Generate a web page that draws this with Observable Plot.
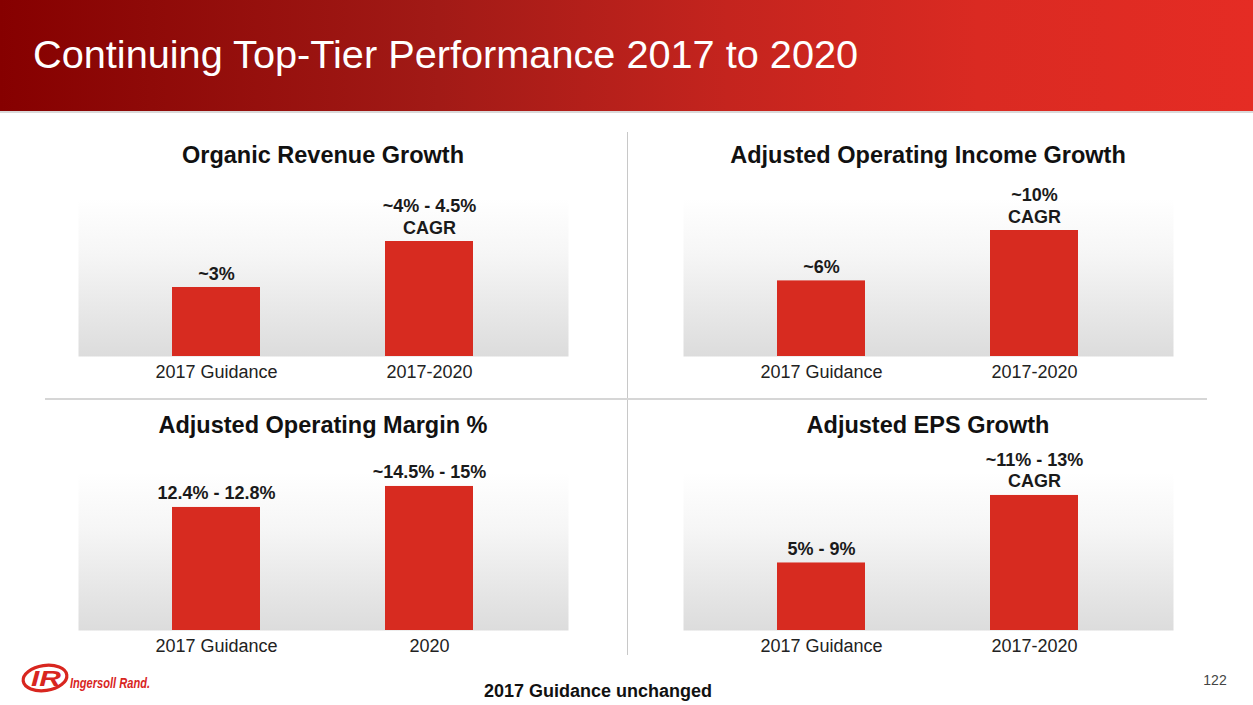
<!DOCTYPE html>
<html>
<head>
<meta charset="utf-8">
<script src="https://cdn.jsdelivr.net/npm/d3@7"></script>
<script src="https://cdn.jsdelivr.net/npm/@observablehq/plot@0.6"></script>
<style>
  html, body { margin: 0; padding: 0; background: #fff; width: 1253px; height: 705px; overflow: hidden; }
  body { position: relative; font-family: "Liberation Sans", Arial, Helvetica, sans-serif; }
  .abs { position: absolute; }
  #header { left: 0; top: 0; width: 1253px; height: 111px;
    background: linear-gradient(to right, #860000 0%, #8f0a08 12%, #a21a16 35%, #c4241e 58%, #da2a22 78%, #e52c24 100%); }
  #headerLine { left: 0; top: 111px; width: 1253px; height: 2px; background: #d9d9d9; }
  #title { left: 33px; top: 35px; color: #fff; font-size: 39.7px; line-height: 1; white-space: nowrap; }
  .ptitle { font-weight: bold; font-size: 23.5px; line-height: 1; color: #111; text-align: center; width: 490px; white-space: nowrap; }
  .panel { width: 490px; }
  #vline { left: 626.5px; top: 132px; width: 1px; height: 523px; background: #c8c8c8; }
  #hline { left: 45px; top: 398px; width: 1162px; height: 2px; background: #d6d6d6; }
  #footnote { left: 398px; top: 682px; width: 400px; text-align: center; font-weight: bold; font-size: 18px; line-height: 1; color: #111; }
  #pageno { left: 1195px; top: 673px; width: 40px; text-align: center; font-size: 14px; line-height: 1; color: #444; }
</style>
</head>
<body>
<svg width="0" height="0" style="position:absolute">
  <defs>
    <linearGradient id="bgGrad" x1="0" y1="0" x2="0" y2="1">
      <stop offset="0" stop-color="#ffffff"/>
      <stop offset="0.35" stop-color="#f6f6f6"/>
      <stop offset="1" stop-color="#dcdcdc"/>
    </linearGradient>
  </defs>
</svg>
<div id="header" class="abs"></div>
<div id="headerLine" class="abs"></div>
<div id="title" class="abs">Continuing Top-Tier Performance 2017 to 2020</div>
<div id="vline" class="abs"></div>
<div id="hline" class="abs"></div>
<div id="footnote" class="abs">2017 Guidance unchanged</div>
<div id="pageno" class="abs">122</div>
<svg class="abs" style="left:18px;top:660px" width="175" height="40" viewBox="0 0 175 40">
  <ellipse cx="27" cy="18" rx="22" ry="12.5" fill="none" stroke="#d8261f" stroke-width="3.2" transform="rotate(-8 27 18)"/>
  <text x="13" y="26" font-family="Liberation Sans, Arial" font-weight="bold" font-style="italic" font-size="22" fill="#d8261f" textLength="30" lengthAdjust="spacingAndGlyphs">IR</text>
  <text x="52" y="28" font-family="Liberation Sans Narrow, Liberation Sans, Arial" font-weight="bold" font-style="italic" font-size="14" fill="#d8261f" textLength="80" lengthAdjust="spacingAndGlyphs">Ingersoll Rand.</text>
</svg>

<script>
// ---- data ----
const panelTitles = ["Organic Revenue Growth", "Adjusted Operating Income Growth", "Adjusted Operating Margin %", "Adjusted EPS Growth"];

const revCategories = ["2017 Guidance", "2017-2020"];
const revValues = [3, 5];
const revLabels = ["~3%", "~4% - 4.5%\nCAGR"];

const opIncCategories = ["2017 Guidance", "2017-2020"];
const opIncValues = [6, 10];
const opIncLabels = ["~6%", "~10%\nCAGR"];

const marginCategories = ["2017 Guidance", "2020"];
const marginValues = [12.6, 14.75];
const marginLabels = ["12.4% - 12.8%", "~14.5% - 15%"];

const epsCategories = ["2017 Guidance", "2017-2020"];
const epsValues = [6, 12];
const epsLabels = ["5% - 9%", "~11% - 13%\nCAGR"];

const yMaxes = [6.87, 12.54, 16.18, 14.04];

// ---- layout ----
const panelLefts = [78, 683, 78, 683];
const plotTops = [198, 198, 472, 472];
const titleTops = [144, 144, 414, 414];
const MT = 60, PH = 158, MB = 34;

const series = [
  [revCategories, revValues, revLabels],
  [opIncCategories, opIncValues, opIncLabels],
  [marginCategories, marginValues, marginLabels],
  [epsCategories, epsValues, epsLabels]
];

series.forEach(([cats, vals, labs], i) => {
  const data = cats.map((c, j) => ({cat: c, value: vals[j], label: labs[j]}));
  const t = document.createElement("div");
  t.className = "abs ptitle";
  t.style.left = panelLefts[i] + "px";
  t.style.top = titleTops[i] + "px";
  t.textContent = panelTitles[i];
  document.body.appendChild(t);

  const chart = Plot.plot({
    width: 490,
    height: MT + PH + MB,
    marginLeft: 0, marginRight: 0, marginTop: MT, marginBottom: MB,
    style: {fontFamily: "'Liberation Sans', Arial, sans-serif", fontSize: "18px", color: "#222", background: "transparent", overflow: "visible"},
    x: {domain: cats, paddingInner: 0.585, paddingOuter: 0.44, tickSize: 0, tickPadding: 9, label: null},
    y: {domain: [0, yMaxes[i]], axis: null},
    marks: [
      Plot.frame({fill: "url(#bgGrad)", stroke: null}),
      Plot.barY(data, {x: "cat", y: "value", fill: "#d72b20"}),
      Plot.text(data, {x: "cat", y: "value", text: "label", lineAnchor: "bottom", dy: -8, lineHeight: 1.22,
        fontWeight: "bold", fontSize: 18, fill: "#1a1a1a"})
    ]
  });
  const wrap = document.createElement("div");
  wrap.className = "abs panel";
  wrap.style.left = panelLefts[i] + "px";
  wrap.style.top = (plotTops[i] - MT) + "px";
  wrap.appendChild(chart);
  document.body.appendChild(wrap);
});
</script>
</body>
</html>
